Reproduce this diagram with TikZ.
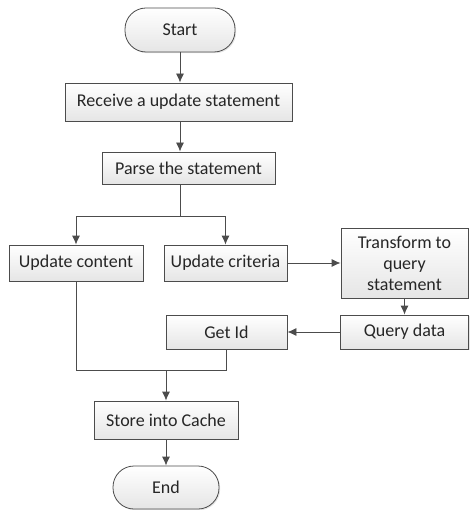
\documentclass[tikz,border=0pt]{standalone}
\usepackage{fontspec}
\setmainfont{Carlito}
\usepackage{tikz}
\usetikzlibrary{positioning, arrows.meta, shapes, shadows}
\tikzset{flowbox/.style={draw=black!70, line width=0.8pt, top color=white, bottom color=black!10, text=black!85, inner sep=2pt, align=center, font=\fontsize{18}{21}\selectfont, drop shadow={shadow xshift=1.2pt, shadow yshift=-1.2pt, fill=black!20}}}
\tikzset{terminal/.style={flowbox, rounded corners=21pt}}
\tikzset{flowarr/.style={draw=black!70, line width=0.8pt, -{Latex[length=9pt, width=8pt]}}}
\tikzset{flowline/.style={draw=black!70, line width=0.8pt}}
\begin{document}
\begin{tikzpicture}[x=1pt, y=-1pt]
    \useasboundingbox (0,0) rectangle (469,510);
    \node[terminal, minimum width=110pt, minimum height=44pt] (start) at (180,30) {Start};
    \node[flowbox, minimum width=227pt, minimum height=38pt] (recv) at (178.5,102) {Receive a update statement};
    \node[flowbox, minimum width=173pt, minimum height=32pt] (parse) at (188.5,168) {Parse the statement};
    \node[flowbox, minimum width=134pt, minimum height=36pt] (content) at (76,263) {Update content};
    \node[flowbox, minimum width=123pt, minimum height=36pt] (criteria) at (225.5,263) {Update criteria};
    \node[flowbox, minimum width=127pt, minimum height=70pt] (transform) at (404.5,263) {Transform to\\query\\statement};
    \node[flowbox, minimum width=128pt, minimum height=34pt] (query) at (404.5,332) {Query data};
    \node[flowbox, minimum width=121pt, minimum height=34pt] (getid) at (226.5,332) {Get Id};
    \node[flowbox, minimum width=144pt, minimum height=38pt] (store) at (166,420) {Store into Cache};
    \node[terminal, minimum width=106pt, minimum height=43pt] (end) at (166,487.5) {End};
    \coordinate (split) at (180,216);
    \coordinate (join) at (166,370);
    % main line
    \draw[flowarr] (start.south) -- (start.south |- recv.north);
    \draw[flowarr] (start.south |- recv.south) -- (start.south |- parse.north);
    \draw[flowline] (start.south |- parse.south) -- (split);
    \draw[flowarr] (split) -| (content.north);
    \draw[flowarr] (split) -| (criteria.north);
    \draw[flowarr] (criteria.east) -- (transform.west);
    \draw[flowarr] (transform.south) -- (query.north);
    \draw[flowarr] (query.west) -- (getid.east);
    \draw[flowline] (content.south) |- (join);
    \draw[flowline] (getid.south) |- (join);
    \draw[flowarr] (join) -- (store.north);
    \draw[flowarr] (store.south) -- (end.north);
\end{tikzpicture}
\end{document}
